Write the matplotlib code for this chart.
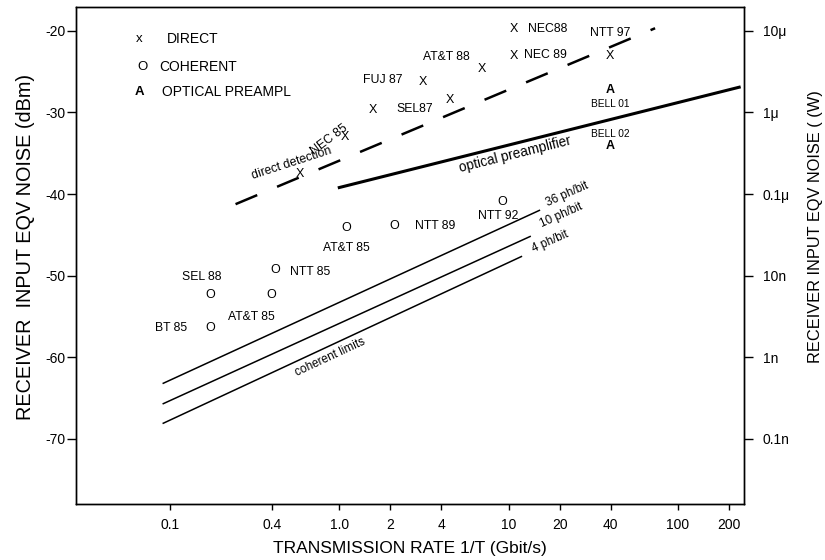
import numpy as np
import matplotlib
matplotlib.use('Agg')
import matplotlib.pyplot as plt
from matplotlib.ticker import FixedLocator, NullLocator, FixedFormatter

plt.rcParams['font.family'] = ['Liberation Sans', 'DejaVu Sans']
plt.rcParams['axes.unicode_minus'] = False

# ── Data (rate in Gbit/s, noise in dBm) ────────────────────────────────────
direct_rate = [0.586, 1.08, 1.58, 3.13, 4.51, 7.0, 10.7, 10.8, 39.4]
direct_dbm = [-37.6, -33.0, -29.7, -26.3, -28.5, -24.7, -19.75, -23.1, -23.1]
direct_names = ['', '', 'SEL87', 'FUJ 87', '', 'AT&T 88', 'NEC88', 'NEC 89', 'NTT 97']

coherent_rate = [1.106, 2.11, 9.23, 0.417, 0.172, 0.398, 0.172]
coherent_dbm = [-44.1, -43.9, -41.0, -49.3, -52.4, -52.4, -56.4]
coherent_names = ['AT&T 85', 'NTT 89', 'NTT 92', 'NTT 85', 'SEL 88', 'AT&T 85', 'BT 85']

preamp_rate = [40.0, 40.0]
preamp_dbm = [-27.3, -34.1]
preamp_names = ['BELL 01', 'BELL 02']

direct_line_rate = [0.244, 73.3]
direct_line_dbm = [-41.24, -19.67]
preamp_line_rate = [1.0, 230.0]
preamp_line_dbm = [-39.2, -26.9]

limit_names = ['36 ph/bit', '10 ph/bit', '4 ph/bit']
limit_rate_start = [0.0913, 0.0913, 0.0913]
limit_rate_end = [15.2, 13.4, 11.9]
limit_dbm_start = [-63.2, -65.7, -68.1]
limit_dbm_end = [-42.0, -45.2, -47.66]

x_ticks = [0.1, 0.4, 1.0, 2, 4, 10, 20, 40, 100, 200]
x_tick_labels = ['0.1', '0.4', '1.0', '2', '4', '10', '20', '40', '100', '200']
y_ticks = [-20, -30, -40, -50, -60, -70]
watt_labels = ['10\u03bc', '1\u03bc', '0.1\u03bc', '10n', '1n', '0.1n']

# label offsets from their marker, in points
direct_offsets = [(0, 0), (0, 0), (30, 0.7), (-29.4, 1.7), (0, 0), (-25.6, 8.9),
                  (24.6, 0), (22.5, 1.2), (0.5, 17)]
coherent_offsets = [(0, -14.8), (29.3, 0), (-3.2, -10), (25.2, -1.7), (-5.5, 13.2),
                    (-14.2, -15.6), (-27.6, 0)]
preamp_offsets = [(0, -9.6), (0, 8.6)]

fig = plt.figure(figsize=(8.25, 5.6), dpi=100)
ax = fig.add_axes([0.0921, 0.1, 0.8097, 0.887])
ax.set_xscale('log')
ax.set_xlim(0.02786, 245.5)
ax.set_ylim(-78.0, -17.1)

# lines
dl, = ax.plot(direct_line_rate, direct_line_dbm, color='black', lw=1.8)
dl.set_dashes((9.4, 8.6))
ax.plot(preamp_line_rate, preamp_line_dbm, color='black', lw=2.2)
for i in range(len(limit_names)):
    ax.plot([limit_rate_start[i], limit_rate_end[i]],
            [limit_dbm_start[i], limit_dbm_end[i]], color='black', lw=1.1)

# point markers drawn as letters
def put_points(rates, dbms, names, offsets, letter, weight, name_size):
    for r, d, n, off in zip(rates, dbms, names, offsets):
        ax.text(r, d, letter, ha='center', va='center', fontsize=9,
                fontweight=weight, color='black')
        if n:
            ax.annotate(n, (r, d), xytext=off, textcoords='offset points',
                        ha='center', va='center', fontsize=name_size)

put_points(direct_rate, direct_dbm, direct_names, direct_offsets, 'X', 'normal', 8.8)
put_points(coherent_rate, coherent_dbm, coherent_names, coherent_offsets, 'O', 'normal', 8.8)
put_points(preamp_rate, preamp_dbm, preamp_names, preamp_offsets, 'A', 'bold', 7.3)

# rotated notes along the lines
ax.annotate('NEC 85', (direct_rate[1], direct_dbm[1]), xytext=(-11.2, -1.8),
            textcoords='offset points', ha='center', va='center', fontsize=8.8,
            rotation=37, rotation_mode='anchor')
ax.text(0.5255, -36.2, 'direct detection', fontsize=8.8, rotation=18,
        ha='center', va='center', rotation_mode='anchor')
ax.text(10.9, -35.07, 'optical preamplifier', fontsize=9.8, rotation=14,
        ha='center', va='center', rotation_mode='anchor')
ax.text(0.881, -59.95, 'coherent limits', fontsize=8.5, rotation=25,
        ha='center', va='center', rotation_mode='anchor')
for name, lx, ly in zip(limit_names, [22.1, 20.4, 17.5], [-39.98, -42.55, -45.86]):
    ax.text(lx, ly, name, fontsize=8.5, rotation=24, ha='center', va='center',
            rotation_mode='anchor')

# legend made of letters
legend_rows = [('x', 'DIRECT', 0.936, 0.0943, 0.1358, 'normal'),
               ('O', 'COHERENT', 0.879, 0.1003, 0.1243, 'normal'),
               ('A', 'OPTICAL PREAMPL', 0.830, 0.0958, 0.1287, 'bold')]
for mk, lab, yy, xm, xl, w in legend_rows:
    ax.text(xm, yy, mk, transform=ax.transAxes, ha='center', va='center',
            fontsize=9.5, fontweight=w)
    ax.text(xl, yy, lab, transform=ax.transAxes, ha='left', va='center', fontsize=10)

# axes styling
ax.xaxis.set_major_locator(FixedLocator(x_ticks))
ax.xaxis.set_major_formatter(FixedFormatter(x_tick_labels))
ax.xaxis.set_minor_locator(NullLocator())
ax.set_yticks(y_ticks)
ax.tick_params(axis='x', direction='out', length=4.3, width=1, labelsize=10, pad=6)
ax.tick_params(axis='y', direction='out', length=6.5, width=1, labelsize=10, pad=1)
for s in ax.spines.values():
    s.set_linewidth(1.0)
ax.set_xlabel('TRANSMISSION RATE 1/T (Gbit/s)', fontsize=12.5, labelpad=6)
ax.set_ylabel('RECEIVER  INPUT EQV NOISE (dBm)', fontsize=14.3)
ax.yaxis.set_label_coords(-0.061, 0.518)

ax2 = ax.twinx()
ax2.set_ylim(ax.get_ylim())
ax2.set_yticks(y_ticks)
ax2.set_yticklabels(watt_labels)
ax2.tick_params(axis='y', direction='out', length=6.5, width=1, labelsize=10, pad=7)
ax2.set_ylabel('RECEIVER INPUT EQV NOISE ( (W)', fontsize=11.8)
ax2.yaxis.set_label_coords(1.096, 0.558)
for s in ax2.spines.values():
    s.set_linewidth(1.0)

fig.savefig('out.png', dpi=100)
